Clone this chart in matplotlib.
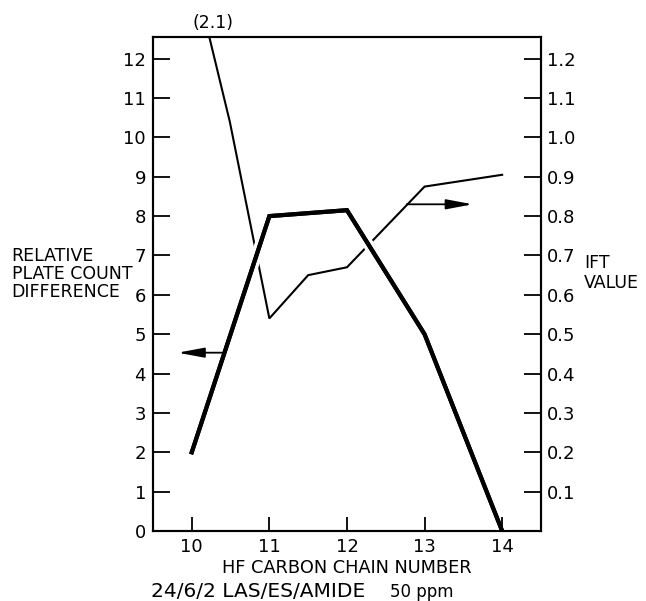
import matplotlib.pyplot as plt
import matplotlib.patheffects as pe

# HF carbon chain number
chain = [10, 11, 12, 13, 14]
# relative plate count difference (left axis, thick line)
plate_diff = [2.0, 8.0, 8.15, 5.0, 0.0]

# IFT value (right axis, thin line); first point runs off the top, marked (2.1)
ift_x = [10.22, 10.49, 11.0, 11.5, 12.0, 13.0, 14.0]
ift_val = [1.26, 1.04, 0.54, 0.65, 0.67, 0.875, 0.905]

left_ticks = list(range(0, 13))
right_ticks = [0.1, 0.2, 0.3, 0.4, 0.5, 0.6, 0.7, 0.8, 0.9, 1.0, 1.1, 1.2]

plt.rcParams['font.family'] = 'DejaVu Sans'

fig = plt.figure(figsize=(6.46, 6.01), dpi=100)
ax = fig.add_axes([0.2368, 0.1165, 0.6006, 0.8219])   # IFT axis (right)
ax2 = ax.twinx()                                      # plate count axis (left)

# host axes carries the thin IFT line, scale on the right
ax.plot(ift_x, ift_val, color='black', lw=1.5, zorder=2, solid_joinstyle='miter')
ax.set_ylim(0, 1.255)
ax.set_xlim(9.5, 14.5)
ax.yaxis.tick_right()
ax.set_yticks(right_ticks)
ax.set_yticklabels(['%.1f' % v for v in right_ticks])
ax.xaxis.set_visible(False)

# twin carries the thick plate count line, scale on the left
ax2.plot(chain, plate_diff, color='black', lw=3.0, zorder=1.4,
         solid_joinstyle='miter',
         path_effects=[pe.withStroke(linewidth=8, foreground='white'), pe.Normal()])
ax2.set_ylim(0, 12.55)
ax2.yaxis.tick_left()
ax2.set_yticks(left_ticks)
ax2.xaxis.set_visible(True)
ax2.set_xticks(chain)

for a in (ax, ax2):
    for s in a.spines.values():
        s.set_linewidth(1.5)
ax.tick_params(axis='y', direction='in', length=12, width=1.3, labelsize=13, pad=4)
ax2.tick_params(axis='y', direction='in', length=12, width=1.3, labelsize=13, pad=5)
ax2.tick_params(axis='x', direction='in', length=10, width=1.3, labelsize=13, pad=5)

# arrows pointing to each series' axis
arrow_kw = dict(arrowstyle='-|>,head_length=0.8,head_width=0.15', color='black',
                lw=1.3, mutation_scale=20, shrinkA=0, shrinkB=0)
ax2.annotate('', xy=(9.82, 4.53), xytext=(10.39, 4.53), arrowprops=arrow_kw, zorder=5)
ax2.annotate('', xy=(13.62, 8.3), xytext=(12.77, 8.3), arrowprops=arrow_kw, zorder=5)

# labels
fig.text(0.329, 0.962, '(2.1)', ha='center', va='center', fontsize=12.5)
fig.text(0.018, 0.544, 'RELATIVE\nPLATE COUNT\nDIFFERENCE', ha='left', va='center',
         fontsize=12.5, linespacing=1.0)
fig.text(0.904, 0.546, 'IFT\nVALUE', ha='left', va='center', fontsize=12.5,
         linespacing=1.1)
fig.text(0.537, 0.055, 'HF CARBON CHAIN NUMBER', ha='center', va='center', fontsize=12.8)
fig.text(0.234, 0.015, '24/6/2 LAS/ES/AMIDE', ha='left', va='center', fontsize=14.5)
fig.text(0.603, 0.015, '50 ppm', ha='left', va='center', fontsize=12)

fig.savefig('out.png', dpi=100)
